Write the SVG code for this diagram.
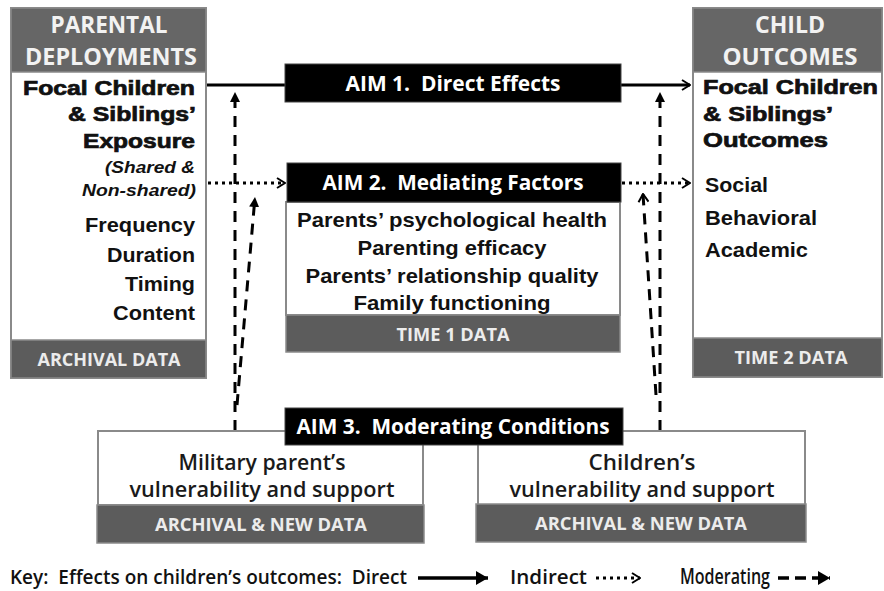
<svg xmlns="http://www.w3.org/2000/svg" width="884" height="591" viewBox="0 0 884 591">
<defs>
<style>
.hdr{fill:#666;stroke:#8a8a8a;stroke-width:1.5}
.ftr{fill:#5c5c5c;stroke:#8a8a8a;stroke-width:1.5}
.body{fill:#fff;stroke:#8a8a8a;stroke-width:2}
.aim{fill:#000;stroke:#444;stroke-width:1}
.ht{font-family:"Open Sans","Liberation Sans",sans-serif;font-weight:700;fill:#f2f2f2;text-anchor:middle;font-size:23px}
.ft{font-family:"Open Sans","Liberation Sans",sans-serif;font-weight:700;fill:#ececec;text-anchor:middle;font-size:18px}
.at{font-family:"Open Sans","Liberation Sans",sans-serif;font-weight:700;fill:#fff;text-anchor:middle;font-size:21px}
.bt{font-family:"Liberation Sans",Arial,sans-serif;font-weight:700;fill:#111}
.heavy{stroke:#111;stroke-width:0.7}
.ct{font-family:"Open Sans","Liberation Sans",sans-serif;font-weight:600;fill:#1a1a1a;text-anchor:middle;font-size:21px}
.direct{stroke:#000;stroke-width:3;fill:none}
.dotted{stroke:#000;stroke-width:3;stroke-dasharray:3 4;fill:none}
.dashed{stroke:#000;stroke-width:3;stroke-dasharray:11 8;fill:none}
</style>
<marker id="chev" viewBox="0 0 10 12" refX="9" refY="6" markerWidth="10" markerHeight="12" markerUnits="userSpaceOnUse" orient="auto">
<path d="M1,1 L9,6 L1,11" fill="none" stroke="#000" stroke-width="2"/>
</marker>
<marker id="tri" viewBox="0 0 10 10" refX="10" refY="5" markerWidth="10" markerHeight="10" markerUnits="userSpaceOnUse" orient="auto">
<path d="M0,0 L10,5 L0,10 z" fill="#000"/>
</marker>
<marker id="trik" viewBox="0 0 12 14" refX="12" refY="7" markerWidth="12" markerHeight="14" markerUnits="userSpaceOnUse" orient="auto">
<path d="M0,0 L12,7 L0,14 z" fill="#000"/>
</marker>
</defs>
<rect width="884" height="591" fill="#fff"/>

<g id="connectors">
<line class="direct" x1="207" y1="85" x2="690" y2="85" marker-end="url(#chev)"/>
<line class="dotted" x1="208" y1="183" x2="285" y2="183" marker-end="url(#chev)"/>
<line class="dotted" x1="622" y1="183" x2="690" y2="183" marker-end="url(#chev)"/>
<line class="dashed" x1="235" y1="431" x2="235" y2="92" marker-end="url(#tri)"/>
<line class="dashed" x1="237" y1="405" x2="255" y2="197" marker-end="url(#tri)"/>
<line class="dashed" x1="660" y1="431" x2="660" y2="92" marker-end="url(#tri)"/>
<line class="dashed" x1="656" y1="395" x2="643" y2="194" marker-end="url(#chev)"/>
</g>

<g id="parental-deployments">
<rect class="body" x="11" y="8" width="195" height="370"/>
<rect class="hdr" x="11" y="8" width="195" height="64"/>
<text class="ht" x="109" y="33" textLength="117" lengthAdjust="spacingAndGlyphs">PARENTAL</text>
<text class="ht" x="111" y="65" textLength="172" lengthAdjust="spacingAndGlyphs">DEPLOYMENTS</text>
<g class="bt" text-anchor="end">
<text class="heavy" x="195" y="95" font-size="20" textLength="172" lengthAdjust="spacingAndGlyphs">Focal Children</text>
<text class="heavy" x="196" y="121" font-size="20" textLength="128" lengthAdjust="spacingAndGlyphs">&amp; Siblings’</text>
<text class="heavy" x="195" y="148" font-size="20" textLength="112" lengthAdjust="spacingAndGlyphs">Exposure</text>
<text x="195" y="173" font-size="17" font-style="italic" textLength="90" lengthAdjust="spacingAndGlyphs">(Shared &amp;</text>
<text x="196" y="196" font-size="17" font-style="italic" textLength="114" lengthAdjust="spacingAndGlyphs">Non-shared)</text>
<text x="195" y="232" font-size="21" textLength="110" lengthAdjust="spacingAndGlyphs">Frequency</text>
<text x="195" y="262" font-size="21" textLength="88" lengthAdjust="spacingAndGlyphs">Duration</text>
<text x="195" y="291" font-size="21" textLength="70" lengthAdjust="spacingAndGlyphs">Timing</text>
<text x="195" y="320" font-size="21" textLength="82" lengthAdjust="spacingAndGlyphs">Content</text>
</g>
<rect class="ftr" x="11" y="340" width="195" height="38"/>
<text class="ft" x="109" y="366" textLength="143" lengthAdjust="spacingAndGlyphs">ARCHIVAL DATA</text>
</g>

<g id="aim1">
<rect class="aim" x="285" y="64" width="336" height="38"/>
<text class="at" x="453" y="91" textLength="215" lengthAdjust="spacingAndGlyphs">AIM 1.&#160; Direct Effects</text>
</g>

<g id="aim2">
<rect class="body" x="286" y="202" width="334" height="113"/>
<rect class="aim" x="287" y="163" width="334" height="39"/>
<text class="at" x="453" y="190" textLength="261" lengthAdjust="spacingAndGlyphs">AIM 2.&#160; Mediating Factors</text>
<g class="bt" text-anchor="middle" font-size="21">
<text x="452" y="227" textLength="310" lengthAdjust="spacingAndGlyphs">Parents’ psychological health</text>
<text x="452" y="255" textLength="189" lengthAdjust="spacingAndGlyphs">Parenting efficacy</text>
<text x="452" y="283" textLength="293" lengthAdjust="spacingAndGlyphs">Parents’ relationship quality</text>
<text x="452" y="310" textLength="197" lengthAdjust="spacingAndGlyphs">Family functioning</text>
</g>
<rect class="ftr" x="286" y="315" width="334" height="37"/>
<text class="ft" x="453" y="341" textLength="113" lengthAdjust="spacingAndGlyphs">TIME 1 DATA</text>
</g>

<g id="child-outcomes">
<rect class="body" x="693" y="8" width="189" height="369"/>
<rect class="hdr" x="693" y="8" width="189" height="64"/>
<text class="ht" x="790" y="33" textLength="70" lengthAdjust="spacingAndGlyphs">CHILD</text>
<text class="ht" x="790" y="65" textLength="135" lengthAdjust="spacingAndGlyphs">OUTCOMES</text>
<g class="bt">
<text class="heavy" x="703" y="94" font-size="20" textLength="175" lengthAdjust="spacingAndGlyphs">Focal Children</text>
<text class="heavy" x="703" y="121" font-size="20" textLength="130" lengthAdjust="spacingAndGlyphs">&amp; Siblings’</text>
<text class="heavy" x="703" y="147" font-size="20" textLength="125" lengthAdjust="spacingAndGlyphs">Outcomes</text>
<text x="705" y="192" font-size="21" textLength="63" lengthAdjust="spacingAndGlyphs">Social</text>
<text x="705" y="225" font-size="21" textLength="112" lengthAdjust="spacingAndGlyphs">Behavioral</text>
<text x="705" y="257" font-size="21" textLength="103" lengthAdjust="spacingAndGlyphs">Academic</text>
</g>
<rect class="ftr" x="693" y="338" width="189" height="39"/>
<text class="ft" x="791" y="364" textLength="113" lengthAdjust="spacingAndGlyphs">TIME 2 DATA</text>
</g>

<g id="military-parent">
<rect class="body" x="98" y="431" width="325" height="74"/>
<text class="ct" x="262" y="470" textLength="167" lengthAdjust="spacingAndGlyphs">Military parent’s</text>
<text class="ct" x="262" y="497" textLength="265" lengthAdjust="spacingAndGlyphs">vulnerability and support</text>
<rect class="ftr" x="97" y="505" width="327" height="38"/>
<text class="ft" x="261" y="531" textLength="212" lengthAdjust="spacingAndGlyphs">ARCHIVAL &amp; NEW DATA</text>
</g>

<g id="children">
<rect class="body" x="478" y="431" width="327" height="74"/>
<text class="ct" x="642" y="470" textLength="107" lengthAdjust="spacingAndGlyphs">Children’s</text>
<text class="ct" x="642" y="497" textLength="265" lengthAdjust="spacingAndGlyphs">vulnerability and support</text>
<rect class="ftr" x="476" y="504" width="330" height="38"/>
<text class="ft" x="641" y="530" textLength="212" lengthAdjust="spacingAndGlyphs">ARCHIVAL &amp; NEW DATA</text>
</g>

<g id="aim3">
<rect class="aim" x="285" y="408" width="338" height="37"/>
<text class="at" x="453" y="434" textLength="313" lengthAdjust="spacingAndGlyphs">AIM 3.&#160; Moderating Conditions</text>
</g>

<g id="key" font-family="'Open Sans','Liberation Sans',sans-serif" font-weight="600" font-size="19" fill="#111">
<text x="10" y="584" textLength="397" lengthAdjust="spacingAndGlyphs">Key:&#160; Effects on children’s outcomes:&#160; Direct</text>
<line x1="418" y1="578" x2="488" y2="578" stroke="#000" stroke-width="3.5" marker-end="url(#trik)"/>
<text x="510" y="584" textLength="77" lengthAdjust="spacingAndGlyphs">Indirect</text>
<line x1="596" y1="578" x2="640" y2="578" class="dotted" marker-end="url(#chev)"/>
<text x="680" y="584" font-size="22" textLength="90" lengthAdjust="spacingAndGlyphs">Moderating</text>
<line x1="778" y1="578" x2="830" y2="578" stroke="#000" stroke-width="3.5" stroke-dasharray="11 6" marker-end="url(#trik)"/>
</g>
</svg>
